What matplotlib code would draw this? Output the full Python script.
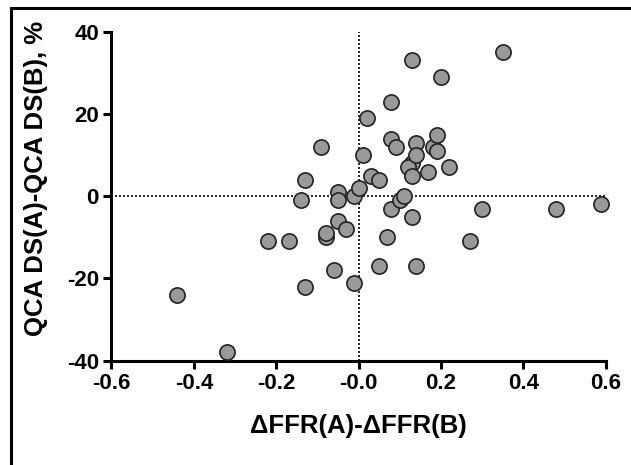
import numpy as np
import matplotlib.pyplot as plt
from matplotlib.patches import Rectangle
from matplotlib.ticker import FixedLocator, FixedFormatter

plt.rcParams['font.family'] = ['Liberation Sans', 'DejaVu Sans']
plt.rcParams['font.weight'] = 'bold'
plt.rcParams['axes.unicode_minus'] = False

# delta FFR difference vs QCA diameter stenosis difference
dffr = [-0.44, -0.32, -0.22, -0.17, -0.14, -0.13, -0.13, -0.09, -0.08, -0.08,
        -0.06, -0.05, -0.05, -0.05, -0.03, -0.01, -0.01, 0.00, 0.01, 0.02,
        0.03, 0.05, 0.05, 0.07, 0.08, 0.08, 0.09, 0.08, 0.10, 0.11,
        0.13, 0.13, 0.13, 0.12, 0.13, 0.14, 0.14, 0.14, 0.17, 0.18,
        0.19, 0.19, 0.20, 0.22, 0.27, 0.30, 0.35, 0.48, 0.59]
dqca = [-24, -38, -11, -11, -1, 4, -22, 12, -10, -9,
        -18, 1, -1, -6, -8, 0, -21, 2, 10, 19,
        5, 4, -17, -10, 23, 14, 12, -3, -1, 0,
        -5, 33, 8, 7, 5, 13, 10, -17, 6, 12,
        15, 11, 29, 7, -11, -3, 35, -3, -2]

xticks = [-0.6, -0.4, -0.2, 0.0, 0.2, 0.4, 0.6]
xticklabels = ['-0.6', '-0.4', '-0.2', '-0.0', '0.2', '0.4', '0.6']
yticks = [-40, -20, 0, 20, 40]

fig = plt.figure(figsize=(6.31, 4.65), dpi=100)
ax = fig.add_axes([0.1767, 0.2243, 0.7829, 0.7075])

# frame around the figure (only top and left visible)
fig.patches.append(Rectangle((0.017, -0.1), 1.2, 1.083, transform=fig.transFigure,
                             fill=False, edgecolor='black', linewidth=2.2))

ax.plot([0, 0], [-40, 40], linestyle=(0, (1.2, 1.2)), color='black', lw=1.2, zorder=1)
ax.plot([-0.6, 0.6], [0, 0], linestyle=(0, (1.2, 1.2)), color='black', lw=1.2, zorder=1)

ax.scatter(dffr, dqca, s=120, facecolor='#999999', edgecolor='#222222',
           linewidth=1.2, zorder=3, clip_on=False)

ax.set_xlim(-0.6, 0.6)
ax.set_ylim(-40, 40)
ax.xaxis.set_major_locator(FixedLocator(xticks))
ax.xaxis.set_major_formatter(FixedFormatter(xticklabels))
ax.set_yticks(yticks)

for side in ['top', 'right']:
    ax.spines[side].set_visible(False)
for side in ['left', 'bottom']:
    ax.spines[side].set_linewidth(2.2)
ax.tick_params(width=2.2, length=6, labelsize=16, pad=3)
for lab in ax.get_xticklabels() + ax.get_yticklabels():
    lab.set_fontweight('bold')

ax.set_xlabel('ΔFFR(A)-ΔFFR(B)', fontsize=18.5, fontweight='bold', labelpad=14)
ax.set_ylabel('QCA DS(A)-QCA DS(B), %', fontsize=18.5, fontweight='bold')
ax.yaxis.set_label_coords(-0.128, 0.555)

fig.savefig('out.png', dpi=100)
